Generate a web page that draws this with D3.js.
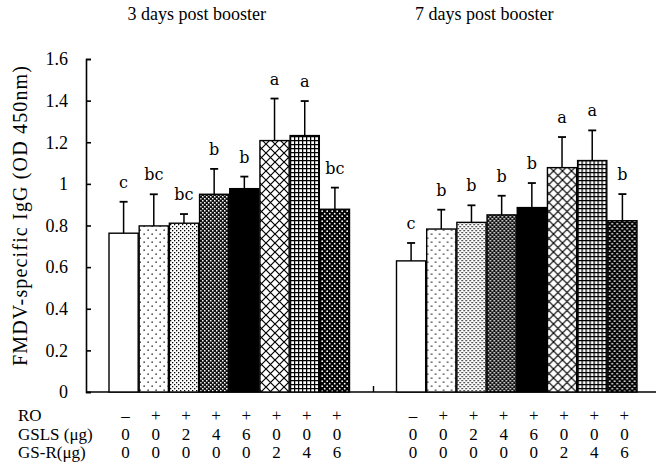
<!DOCTYPE html>
<html>
<head>
<meta charset="utf-8">
<script src="https://cdn.jsdelivr.net/npm/d3@7"></script>
<style>
    body { margin: 0; background: #fff; }
    svg { display: block; }
    text { font-family: "Liberation Serif", "Times New Roman", serif; fill: #000; }
</style>
</head>
<body>
<script>
// values
const groups = ["3 days post booster", "7 days post booster"];
const treatments = [0, 1, 2, 3, 4, 5, 6, 7];
const fills = ["white", "dotsSparse", "dotsDense", "darkChecker", "black", "crossHatch", "grid", "darkDots"];

const means3 = [0.763, 0.798, 0.811, 0.950, 0.977, 1.208, 1.232, 0.878];
const errs3 = [0.151, 0.152, 0.044, 0.122, 0.058, 0.202, 0.166, 0.104];
const letters3 = ["c", "bc", "bc", "b", "b", "a", "a", "bc"];

const means7 = [0.630, 0.783, 0.815, 0.851, 0.886, 1.078, 1.112, 0.823];
const errs7 = [0.086, 0.093, 0.082, 0.092, 0.118, 0.147, 0.145, 0.128];
const letters7 = ["c", "b", "b", "b", "b", "a", "a", "b"];

const yTicks = [0, 0.2, 0.4, 0.6, 0.8, 1, 1.2, 1.4, 1.6];

const rowLabels = ["RO", "GSLS (\u03bcg)", "GS-R(\u03bcg)"];
const roRow = ["\u2013", "+", "+", "+", "+", "+", "+", "+"];
const gslsRow = ["0", "0", "2", "4", "6", "0", "0", "0"];
const gsrRow = ["0", "0", "0", "0", "0", "2", "4", "6"];

const width = 658, height = 468;

const svg = d3.select("body").append("svg")
    .attr("width", width)
    .attr("height", height);

// fill patterns
const defs = svg.append("defs");

function pattern(id, size, bg) {
    const p = defs.append("pattern")
        .attr("id", id)
        .attr("patternUnits", "userSpaceOnUse")
        .attr("width", size)
        .attr("height", size);
    p.append("rect").attr("width", size).attr("height", size).attr("fill", bg);
    return p;
}

let p = pattern("dotsSparse", 8, "#fff");
p.append("rect").attr("x", 1.5).attr("y", 1.5).attr("width", 1.3).attr("height", 1.3).attr("fill", "#000");
p.append("rect").attr("x", 5.5).attr("y", 5.5).attr("width", 1.3).attr("height", 1.3).attr("fill", "#000");

p = pattern("dotsDense", 4, "#fff");
p.append("rect").attr("x", 0).attr("y", 0).attr("width", 1.3).attr("height", 1.3).attr("fill", "#000");
p.append("rect").attr("x", 2).attr("y", 2).attr("width", 1.3).attr("height", 1.3).attr("fill", "#000");

p = pattern("darkChecker", 4, "#111");
p.append("rect").attr("x", 0).attr("y", 0).attr("width", 1.5).attr("height", 1.5).attr("fill", "#fff");
p.append("rect").attr("x", 2).attr("y", 2).attr("width", 1.5).attr("height", 1.5).attr("fill", "#fff");

p = pattern("crossHatch", 9, "#fff");
p.append("path").attr("d", "M0,0L9,9M9,0L0,9").attr("stroke", "#000").attr("stroke-width", 1.2);

p = pattern("grid", 4, "#fff");
p.append("path").attr("d", "M0,0.6H4M0.6,0V4").attr("stroke", "#000").attr("stroke-width", 1.3);

p = pattern("darkDots", 5, "#000");
p.append("circle").attr("cx", 1.2).attr("cy", 1.2).attr("r", 0.9).attr("fill", "#fff");
p.append("circle").attr("cx", 3.7).attr("cy", 3.7).attr("r", 0.9).attr("fill", "#fff");

const fillOf = i => {
    if (fills[i] === "white") return "#fff";
    if (fills[i] === "black") return "#000";
    return `url(#${fills[i]})`;
};

// scales
const y = d3.scaleLinear().domain([0, 1.6]).range([392, 59]);
const x0 = d3.scaleBand().domain(groups).range([86, 661]);
const x1 = d3.scaleBand().domain(treatments).range([22.5, 264]);

const series = [
    { group: groups[0], means: means3, errs: errs3, letters: letters3 },
    { group: groups[1], means: means7, errs: errs7, letters: letters7 }
];

// y axis
svg.append("g")
    .attr("transform", `translate(${x0.range()[0]},0)`)
    .call(d3.axisLeft(y).tickValues(yTicks).tickFormat(d3.format("~g"))
        .tickSizeInner(-5).tickSizeOuter(-5).tickPadding(18))
    .call(g => g.selectAll("path, line").attr("stroke", "#000").attr("stroke-width", 1.6))
    .call(g => g.selectAll("text").attr("font-size", 18));

// baseline with group separator
svg.append("line")
    .attr("x1", x0.range()[0]).attr("x2", 656)
    .attr("y1", y(0)).attr("y2", y(0))
    .attr("stroke", "#000").attr("stroke-width", 1.6);
svg.append("line")
    .attr("x1", x0(groups[1])).attr("x2", x0(groups[1]))
    .attr("y1", y(0)).attr("y2", y(0) - 6)
    .attr("stroke", "#000").attr("stroke-width", 1.4);

// bars, error bars, letters
series.forEach(s => {
    const g = svg.append("g").attr("transform", `translate(${x0(s.group)},0)`);
    const bw = x1.bandwidth() - 1;

    g.selectAll("rect.bar")
        .data(treatments)
        .enter().append("rect")
        .attr("class", "bar")
        .attr("x", i => x1(i) + 0.5)
        .attr("y", i => y(s.means[i]))
        .attr("width", bw)
        .attr("height", i => y(0) - y(s.means[i]))
        .attr("fill", fillOf)
        .attr("stroke", "#000")
        .attr("stroke-width", 1.4);

    const cx = i => x1(i) + x1.bandwidth() / 2;

    g.selectAll("line.err")
        .data(treatments)
        .enter().append("line")
        .attr("class", "err")
        .attr("x1", cx).attr("x2", cx)
        .attr("y1", i => y(s.means[i]))
        .attr("y2", i => y(s.means[i] + s.errs[i]))
        .attr("stroke", "#000").attr("stroke-width", 1.5);

    g.selectAll("line.cap")
        .data(treatments)
        .enter().append("line")
        .attr("class", "cap")
        .attr("x1", i => cx(i) - 4).attr("x2", i => cx(i) + 4)
        .attr("y1", i => y(s.means[i] + s.errs[i]))
        .attr("y2", i => y(s.means[i] + s.errs[i]))
        .attr("stroke", "#000").attr("stroke-width", 1.8);

    g.selectAll("text.letter")
        .data(treatments)
        .enter().append("text")
        .attr("class", "letter")
        .attr("x", cx)
        .attr("y", i => y(s.means[i] + s.errs[i]) - 14)
        .attr("text-anchor", "middle")
        .style("font-family", "DejaVu Serif, serif")
        .attr("font-size", 16)
        .text(i => s.letters[i]);

    // group title
    svg.append("text")
        .attr("x", x0(s.group) + x0.bandwidth() / 2 - 33)
        .attr("y", 20)
        .attr("text-anchor", "middle")
        .attr("font-size", 18)
        .text(s.group);

    // treatment table
    [roRow, gslsRow, gsrRow].forEach((row, r) => {
        g.selectAll(`text.row${r}`)
            .data(treatments)
            .enter().append("text")
            .attr("class", `row${r}`)
            .attr("x", i => cx(i) + 2)
            .attr("y", [421, 440, 458][r])
            .attr("text-anchor", "middle")
            .attr("font-size", 17)
            .text(i => row[i]);
    });
});

svg.selectAll("text.rowLabel")
    .data(rowLabels)
    .enter().append("text")
    .attr("class", "rowLabel")
    .attr("x", 18)
    .attr("y", (d, r) => [421, 440, 458][r])
    .attr("font-size", 17)
    .text(d => d);

// y axis title
svg.append("text")
    .attr("transform", "translate(27,216) rotate(-90)")
    .attr("text-anchor", "middle")
    .attr("font-size", 20)
    .attr("textLength", 300)
    .attr("lengthAdjust", "spacing")
    .text("FMDV-specific IgG (OD 450nm)");
</script>
</body>
</html>
